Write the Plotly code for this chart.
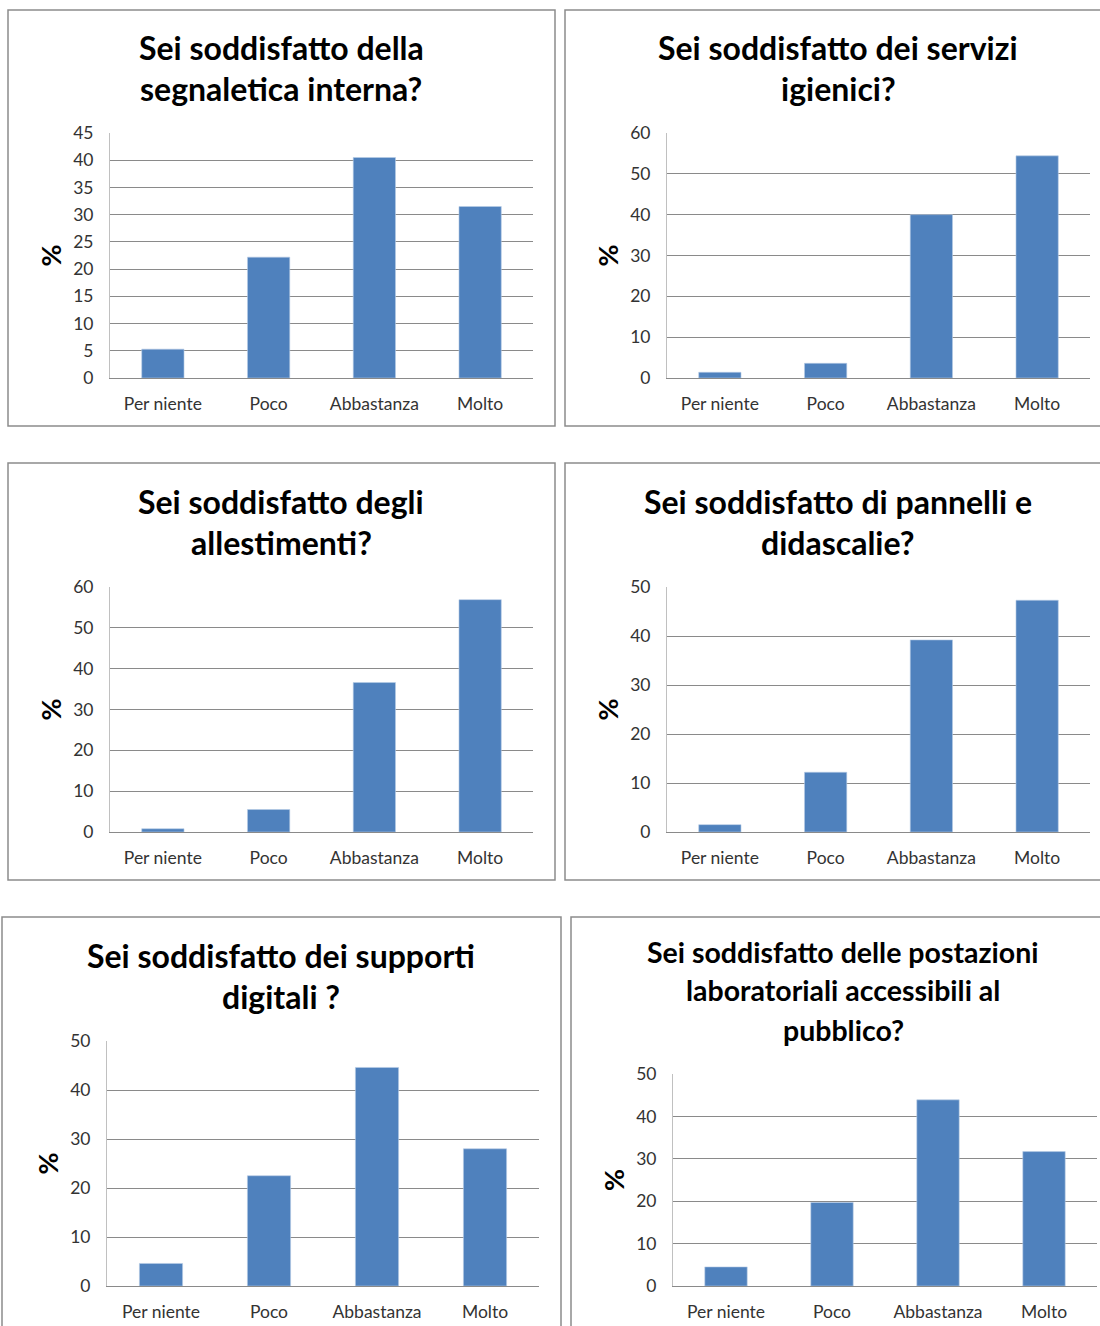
import plotly.graph_objects as go

W, H = 1100, 1326

categories = ["Per niente", "Poco", "Abbastanza", "Molto"]

title_segnaletica = ["Sei soddisfatto della", "segnaletica interna?"]
title_igienici = ["Sei soddisfatto dei servizi", "igienici?"]
title_allestimenti = ["Sei soddisfatto degli", "allestimenti?"]
title_pannelli = ["Sei soddisfatto di pannelli e", "didascalie?"]
title_digitali = ["Sei soddisfatto dei supporti", "digitali ?"]
title_postazioni = ["Sei soddisfatto delle postazioni", "laboratoriali accessibili al", "pubblico?"]

values_segnaletica = [5.3, 22.2, 40.5, 31.5]
values_igienici = [1.4, 3.6, 40.0, 54.4]
values_allestimenti = [0.8, 5.5, 36.6, 56.9]
values_pannelli = [1.5, 12.2, 39.2, 47.3]
values_digitali = [4.6, 22.5, 44.6, 28.0]
values_postazioni = [4.5, 19.7, 43.9, 31.7]

y_max = [45, 60, 60, 50, 50, 50]
y_step = [5, 10, 10, 10, 10, 10]

BAR = "#4F81BD"
GRID = "#8a8a8a"
BORDER = "#8c8c8c"
FONT = "Lato"

panels = [
    dict(title=title_segnaletica, vals=values_segnaletica,
         plot=(110, 533, 133, 378), box=(8, 555, 10, 426), tc=281, ty=[48, 89], tsize=32),
    dict(title=title_igienici, vals=values_igienici,
         plot=(667, 1090, 133, 378), box=(565, 1110, 10, 426), tc=838, ty=[48, 89], tsize=32),
    dict(title=title_allestimenti, vals=values_allestimenti,
         plot=(110, 533, 587, 832), box=(8, 555, 463, 880), tc=281, ty=[501, 542], tsize=32),
    dict(title=title_pannelli, vals=values_pannelli,
         plot=(667, 1090, 587, 832), box=(565, 1110, 463, 880), tc=838, ty=[501, 542], tsize=32),
    dict(title=title_digitali, vals=values_digitali,
         plot=(107, 539, 1041, 1286), box=(2, 561, 917, 1340), tc=281, ty=[955, 996], tsize=32),
    dict(title=title_postazioni, vals=values_postazioni,
         plot=(673, 1097, 1074, 1286), box=(571, 1110, 917, 1340), tc=843, ty=[952, 990, 1030], tsize=28.5),
]

def px(x):
    return x / W

def py(y):
    return 1 - y / H

fig = go.Figure()
shapes = []
annotations = []

for i, p in enumerate(panels):
    n = i + 1
    xa = "x" if n == 1 else f"x{n}"
    ya = "y" if n == 1 else f"y{n}"
    fig.add_trace(go.Bar(
        x=categories, y=p["vals"], xaxis=xa, yaxis=ya,
        marker=dict(color=BAR, line=dict(color="#b9cde5", width=0.6)),
        showlegend=False,
    ))
    x0, x1, y0, y1 = p["plot"]
    xkey = "xaxis" if n == 1 else f"xaxis{n}"
    ykey = "yaxis" if n == 1 else f"yaxis{n}"
    fig.layout[xkey] = dict(
        domain=[px(x0), px(x1)], anchor=ya, automargin=False,
        showgrid=False, showline=True, linecolor=GRID, linewidth=1,
        ticks="", ticklabelstandoff=10,
        tickfont=dict(family=FONT, size=17.5, color="#333333"),
        fixedrange=True,
    )
    fig.layout[ykey] = dict(
        domain=[py(y1), py(y0)], anchor=xa, automargin=False,
        range=[0, y_max[i]], dtick=y_step[i], tick0=0,
        showgrid=True, gridcolor=GRID, gridwidth=1,
        showline=True, linecolor="#c0c0c0", linewidth=1,
        zeroline=False, ticks="", ticklabelstandoff=12,
        tickfont=dict(family=FONT, size=17.5, color="#333333"),
        fixedrange=True,
    )
    bx0, bx1, by0, by1 = p["box"]
    shapes.append(dict(type="rect", xref="paper", yref="paper",
                       x0=px(bx0), x1=px(bx1), y0=py(by1), y1=py(by0),
                       line=dict(color=BORDER, width=1.5), fillcolor="rgba(0,0,0,0)", layer="below"))
    for line, yy in zip(p["title"], p["ty"]):
        annotations.append(dict(text=f"<b>{line}</b>", xref="paper", yref="paper",
                                x=px(p["tc"]), y=py(yy), xanchor="center", yanchor="middle",
                                showarrow=False,
                                font=dict(family=FONT, size=p["tsize"], color="#000000")))
    annotations.append(dict(text="<b>%</b>", xref="paper", yref="paper",
                            x=px(x0 - 60), y=py((y0 + y1) / 2), xanchor="center", yanchor="middle",
                            textangle=-90, showarrow=False,
                            font=dict(family=FONT, size=27, color="#000000")))

fig.update_layout(
    template="none",
    width=W, height=H,
    margin=dict(l=0, r=0, t=0, b=0, autoexpand=False),
    paper_bgcolor="white", plot_bgcolor="white",
    bargap=0.6,
    shapes=shapes, annotations=annotations,
    font=dict(family=FONT),
)

fig.write_html("out.html", config={"displayModeBar": False})
